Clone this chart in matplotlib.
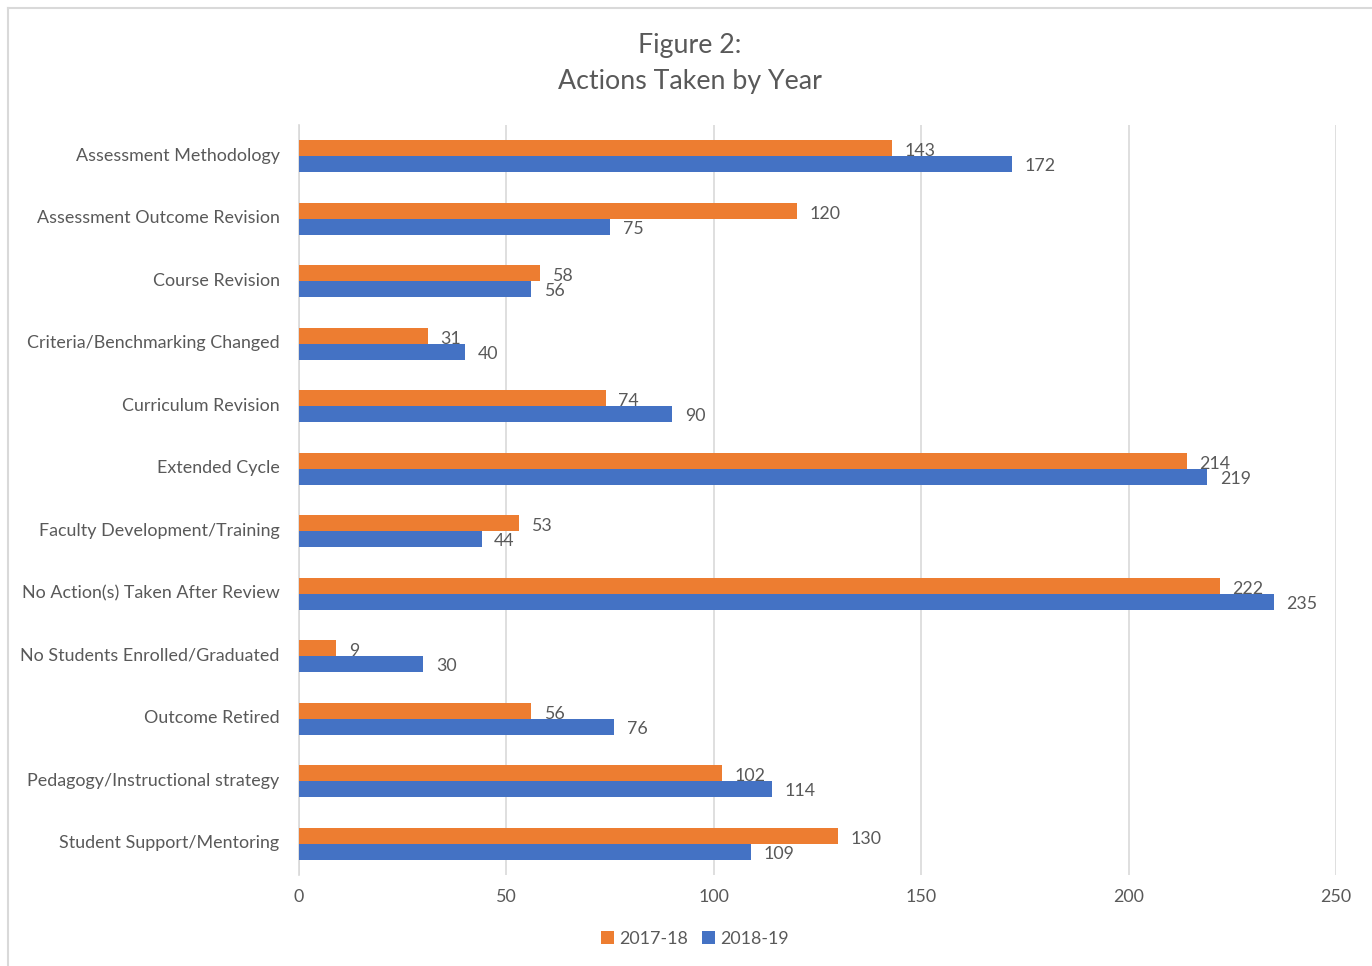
import matplotlib
matplotlib.use("Agg")
import matplotlib.pyplot as plt
from matplotlib.lines import Line2D
from matplotlib.patches import Patch
import matplotlib.transforms as mtransforms
import numpy as np

categories = ["Assessment Methodology", "Assessment Outcome Revision", "Course Revision",
              "Criteria/Benchmarking Changed", "Curriculum Revision", "Extended Cycle",
              "Faculty Development/Training", "No Action(s) Taken After Review",
              "No Students Enrolled/Graduated", "Outcome Retired",
              "Pedagogy/Instructional strategy", "Student Support/Mentoring"]
series_names = ["2017-18", "2018-19"]
values_2017 = [143, 120, 58, 31, 74, 214, 53, 222, 9, 56, 102, 130]
values_2018 = [172, 75, 56, 40, 90, 219, 44, 235, 30, 76, 114, 109]
xticks = [0, 50, 100, 150, 200, 250]

ORANGE = "#ED7D31"
BLUE = "#4472C4"
TEXT = "#595959"
GRID = "#D9D9D9"
FONT = ["Lato", "DejaVu Sans"]

plt.rcParams["font.family"] = FONT

W, H = 1372, 966
fig = plt.figure(figsize=(W / 100, H / 100), dpi=100)
ax = fig.add_axes([299 / W, 1 - 875 / H, (1336 - 299) / W, (875 - 125) / H])

n = len(categories)
y = np.arange(n)
bh = 0.257
ax.barh(y - bh / 2, values_2017, height=bh, color=ORANGE, label=series_names[0], zorder=3)
ax.barh(y + bh / 2, values_2018, height=bh, color=BLUE, label=series_names[1], zorder=3)

for yi, v in zip(y, values_2017):
    ax.text(v + 3, yi - bh / 2 + 0.045, str(v), va="center", ha="left", fontsize=12.8, color=TEXT, zorder=4)
for yi, v in zip(y, values_2018):
    ax.text(v + 3, yi + bh / 2 + 0.03, str(v), va="center", ha="left", fontsize=12.8, color=TEXT, zorder=4)

ax.set_ylim(n - 0.5, -0.5)
ax.set_xlim(0, 250)
ax.set_xticks(xticks)
ax.set_xticklabels([str(t) for t in xticks])
ax.set_yticks(y)
ax.set_yticklabels(categories)
ax.tick_params(axis="both", length=0, labelsize=12.9, labelcolor=TEXT)
ax.tick_params(axis="y", pad=14)
ax.tick_params(axis="x", pad=10)
shift = mtransforms.ScaledTranslation(0, 2 / 100, fig.dpi_scale_trans)
for lab in ax.get_yticklabels():
    lab.set_transform(lab.get_transform() + shift)
ax.xaxis.grid(True, color=GRID, linewidth=1.2, zorder=0)
ax.yaxis.grid(False)
for s in ["top", "right", "bottom"]:
    ax.spines[s].set_visible(False)
ax.spines["left"].set_color(GRID)
ax.spines["left"].set_linewidth(1.2)
ax.set_facecolor("none")

fig.text(690 / W, 1 - 46 / H, "Figure 2:", ha="center", va="center", fontsize=19.3, color=TEXT)
fig.text(690 / W, 1 - 82 / H, "Actions Taken by Year", ha="center", va="center", fontsize=19.3, color=TEXT)

handles = [Patch(facecolor=ORANGE, label=series_names[0]), Patch(facecolor=BLUE, label=series_names[1])]
fig.legend(handles=handles, loc="center", bbox_to_anchor=(695 / W, 1 - 939 / H), ncol=2, frameon=False,
           fontsize=12.9, handlelength=0.7, handleheight=0.7, handletextpad=0.3, columnspacing=0.8,
           labelcolor=TEXT)

# outer chart frame (cropped on right and bottom)
fig.add_artist(Line2D([8 / W, 1.0], [1 - 8 / H, 1 - 8 / H], transform=fig.transFigure, color=GRID, lw=1.5))
fig.add_artist(Line2D([8 / W, 8 / W], [1 - 8 / H, 0.0], transform=fig.transFigure, color=GRID, lw=1.5))

fig.savefig("out.png", dpi=100, facecolor="white")
